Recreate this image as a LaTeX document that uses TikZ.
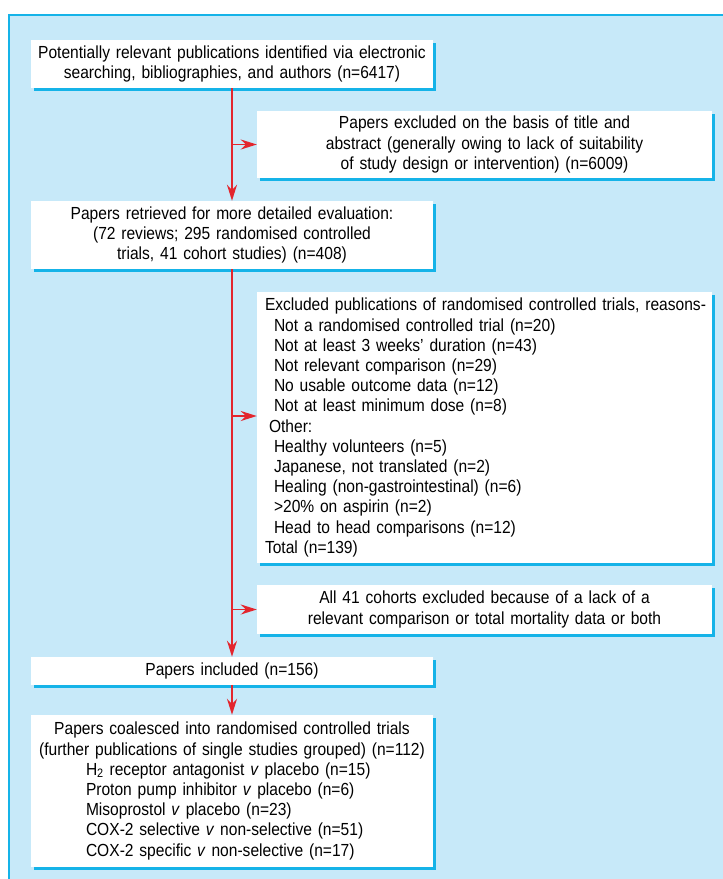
\documentclass[tikz,border=0pt]{standalone}
\usepackage{fontspec}
\setmainfont{Liberation Sans}[FakeStretch=0.89]
\usetikzlibrary{arrows.meta,shadows}
\definecolor{panelbg}{HTML}{C7E9F9}
\definecolor{cyanline}{HTML}{15B3E8}
\definecolor{arrowred}{HTML}{E3262E}
\tikzset{
  box/.style={fill=white, draw=none, inner ysep=0pt, inner xsep=6pt, align=center,
    font=\fontsize{17.5}{20.2}\selectfont,
    general shadow={fill=cyanline, shadow xshift=3pt, shadow yshift=-3pt}},
  arr/.style={draw=arrowred, line width=1.8pt, -{Stealth[length=16pt,width=10pt,inset=5pt]}}
}
\begin{document}
\begin{tikzpicture}[x=1pt,y=-1pt]
\useasboundingbox (0,0) rectangle (723,879);
\fill[white] (0,0) rectangle (723,879);
\fill[panelbg] (9,15) rectangle (725,882);
\draw[cyanline, line width=2pt] (9,882) -- (9,15) -- (725,15);

\node[box, minimum width=402pt, minimum height=48pt, text width=394pt, inner xsep=4pt] (b1) at (232,64)
  {Potentially relevant publications identified via electronic\\searching, bibliographies, and authors (n=6417)};
\node[box, minimum width=455pt, minimum height=67pt, text width=443pt] (b2) at (484.5,144.5)
  {Papers excluded on the basis of title and\\abstract (generally owing to lack of suitability\\of study design or intervention) (n=6009)};
\node[box, minimum width=402pt, minimum height=68pt, text width=390pt] (b3) at (232,235)
  {Papers retrieved for more detailed evaluation:\\(72 reviews; 295 randomised controlled\\trials, 41 cohort studies) (n=408)};
\node[box, minimum width=455pt, minimum height=271pt, text width=441pt, inner xsep=7pt, align=left] (b4) at (484.5,427.5)
  {\makebox[441pt][l]{\hspace*{1pt}Excluded publications of randomised controlled trials, reasons-}\\
   \hspace*{10pt}Not a randomised controlled trial (n=20)\\
   \hspace*{10pt}Not at least 3 weeks’ duration (n=43)\\
   \hspace*{10pt}Not relevant comparison (n=29)\\
   \hspace*{10pt}No usable outcome data (n=12)\\
   \hspace*{10pt}Not at least minimum dose (n=8)\\
   \hspace*{5pt}Other:\\
   \hspace*{10pt}Healthy volunteers (n=5)\\
   \hspace*{10pt}Japanese, not translated (n=2)\\
   \hspace*{10pt}Healing (non-gastrointestinal) (n=6)\\
   \hspace*{10pt}>20\% on aspirin (n=2)\\
   \hspace*{10pt}Head to head comparisons (n=12)\\
   \hspace*{1pt}Total (n=139)};
\node[box, minimum width=455pt, minimum height=49pt, text width=443pt] (b5) at (484.5,609.5)
  {All 41 cohorts excluded because of a lack of a\\relevant comparison or total mortality data or both};
\node[box, minimum width=402pt, minimum height=28pt, text width=390pt] (b6) at (232,671)
  {Papers included (n=156)};
\node[box, minimum width=402pt, minimum height=152pt, text width=394pt, inner xsep=4pt, align=left] (b7) at (232,791)
  {\makebox[394pt][c]{Papers coalesced into randomised controlled trials}\\
   \makebox[394pt][c]{(further publications of single studies grouped) (n=112)}\\
   \hspace*{51pt}H\textsubscript{2} receptor antagonist \textit{v} placebo (n=15)\\
   \hspace*{51pt}Proton pump inhibitor \textit{v} placebo (n=6)\\
   \hspace*{51pt}Misoprostol \textit{v} placebo (n=23)\\
   \hspace*{51pt}COX-2 selective \textit{v} non-selective (n=51)\\
   \hspace*{51pt}COX-2 specific \textit{v} non-selective (n=17)};

\coordinate (j1) at (b1.south |- b2.west);
\coordinate (j2) at (232,416);
\coordinate (j3) at (b3.south |- b5.west);
\draw[arr] (b1.south) -- (b3.north);
\draw[arr] (j1) -- (b2.west);
\draw[arr] (b3.south) -- (b6.north);
\draw[arr] (j2) -- (j2 -| b4.west);
\draw[arr] (j3) -- (b5.west);
\draw[arr] (b6.south) -- (b7.north);
\end{tikzpicture}
\end{document}
